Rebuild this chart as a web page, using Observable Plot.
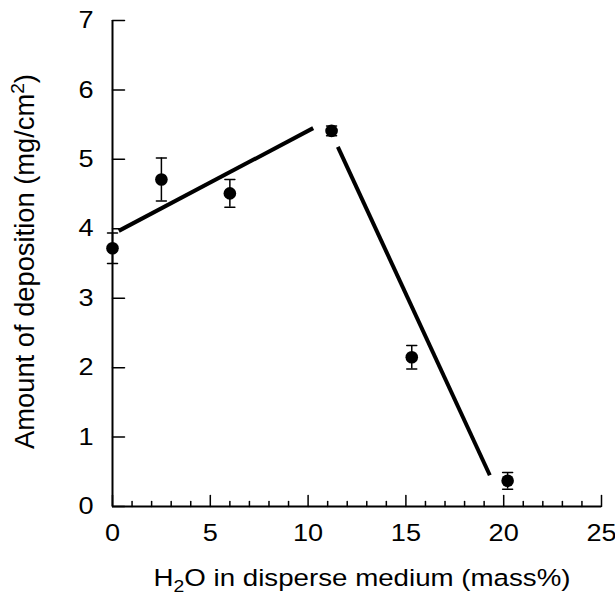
<!DOCTYPE html>
<html><head><meta charset="utf-8">
<script src="https://cdn.jsdelivr.net/npm/d3@7"></script>
<script src="https://cdn.jsdelivr.net/npm/@observablehq/plot@0.6"></script>
<style>body{margin:0;background:#fff}</style>
</head><body><div id="chart"></div>
<script>
// Measured points (H2O mass%, deposition mg/cm2, error)
const waterPct = [0, 2.5, 6, 11.2, 15.3, 20.2];
const deposition = [3.72, 4.71, 4.51, 5.41, 2.15, 0.37];
const errors = [0.22, 0.31, 0.2, 0.07, 0.17, 0.12];
// Fitted line segments
const fit1X = [0.32, 10.26];
const fit1Y = [3.97, 5.45];
const fit2X = [11.52, 19.29];
const fit2Y = [5.18, 0.45];
// Ticks
const xTicks = [0, 5, 10, 15, 20, 25];
const xMinorTicks = [1,2,3,4,6,7,8,9,11,12,13,14,16,17,18,19,21,22,23,24];
const yTicks = [0, 1, 2, 3, 4, 5, 6, 7];
// Titles: [before, sub/sup, after]
const xTitle = ["H", "2", "O in disperse medium (mass%)"];
const yTitle = ["Amount of deposition (mg/cm", "2", ")"];

const points = waterPct.map((x, i) => ({x, y: deposition[i], e: errors[i]}));
const fit1 = fit1X.map((x, i) => ({x, y: fit1Y[i]}));
const fit2 = fit2X.map((x, i) => ({x, y: fit2Y[i]}));

const lineShape = {draw(ctx, l) { ctx.moveTo(0, 0); ctx.lineTo(0, -l); }};
const FONT = "'Liberation Sans', Arial, Helvetica, sans-serif";

const plot = Plot.plot({
  width: 615, height: 594,
  marginLeft: 112, marginRight: 14, marginTop: 20, marginBottom: 88,
  style: {fontFamily: FONT, background: "white", color: "black"},
  x: {domain: [0, 25], axis: null},
  y: {domain: [0, 7], axis: null},
  marks: [
    // tick labels
    Plot.text(xTicks, {x: d => d, y: 0, text: d => String(d), lineAnchor: "top", textAnchor: "middle", dy: 17, fontSize: 24, ariaLabel: () => "tick"}),
    Plot.text(yTicks, {x: 0, y: d => d, text: d => String(d), lineAnchor: "middle", textAnchor: "end", dx: -19, fontSize: 24, ariaLabel: () => "tick"}),
    // inward ticks
    Plot.vector(yTicks, {x: 0, y: d => d, length: 12, rotate: 90, anchor: "start", shape: lineShape, stroke: "black", strokeWidth: 1.5}),
    Plot.vector(xTicks, {x: d => d, y: 0, length: 11, rotate: 0, anchor: "start", shape: lineShape, stroke: "black", strokeWidth: 1.5}),
    Plot.vector(xMinorTicks, {x: d => d, y: 0, length: 5, rotate: 0, anchor: "start", shape: lineShape, stroke: "black", strokeWidth: 1.5}),
    Plot.ruleX([0], {stroke: "black", strokeWidth: 2}),
    Plot.ruleY([0], {stroke: "black", strokeWidth: 2}),
    // fitted lines
    Plot.line(fit1, {x: "x", y: "y", stroke: "black", strokeWidth: 4, strokeLinecap: "butt"}),
    Plot.line(fit2, {x: "x", y: "y", stroke: "black", strokeWidth: 4, strokeLinecap: "butt"}),
    // error bars
    Plot.ruleX(points, {x: "x", y1: d => d.y - d.e, y2: d => d.y + d.e, stroke: "black", strokeWidth: 1.5}),
    Plot.vector(points, {x: "x", y: d => d.y + d.e, length: 10, rotate: 90, anchor: "middle", shape: lineShape, stroke: "black", strokeWidth: 1.5}),
    Plot.vector(points, {x: "x", y: d => d.y - d.e, length: 10, rotate: 90, anchor: "middle", shape: lineShape, stroke: "black", strokeWidth: 1.5}),
    Plot.dot(points, {x: "x", y: "y", r: 6.3, fill: "black", stroke: "none"}),
    // titles
    Plot.text([xTitle.join("")], {text: d => d, frameAnchor: "bottom", textAnchor: "middle", lineAnchor: "middle", dx: 5, dy: 72, fontSize: 24.5}),
    Plot.text([yTitle.join("")], {text: d => d, frameAnchor: "left", textAnchor: "middle", lineAnchor: "middle", rotate: -90, dx: -87, dy: -2, fontSize: 27.3})
  ]
});
document.getElementById("chart").appendChild(plot);

// Rich text (sub/superscript) for titles
function richTitle(parts, fs, shift) {
  const full = parts.join("");
  const node = Array.from(plot.querySelectorAll("text")).find(t => t.textContent === full);
  if (!node) return null;
  const t = d3.select(node);
  t.text(null);
  t.append("tspan").text(parts[0]);
  t.append("tspan").attr("font-size", fs * 0.7).attr("dy", shift).text(parts[1]);
  t.append("tspan").attr("dy", -shift).text(parts[2]);
  return node;
}
const xt = richTitle(xTitle, 24.5, 6);
richTitle(yTitle, 27.3, -10);

// The reference's horizontal text is slightly wide: stretch horizontally
const k = 1.13;
const stretch = el => {
  if (!el) return;
  const w = el.getComputedTextLength();
  el.setAttribute("textLength", w * k);
  el.setAttribute("lengthAdjust", "spacingAndGlyphs");
};
plot.querySelectorAll('text[aria-label="tick"]').forEach(stretch);
stretch(xt);
</script>
</body></html>
